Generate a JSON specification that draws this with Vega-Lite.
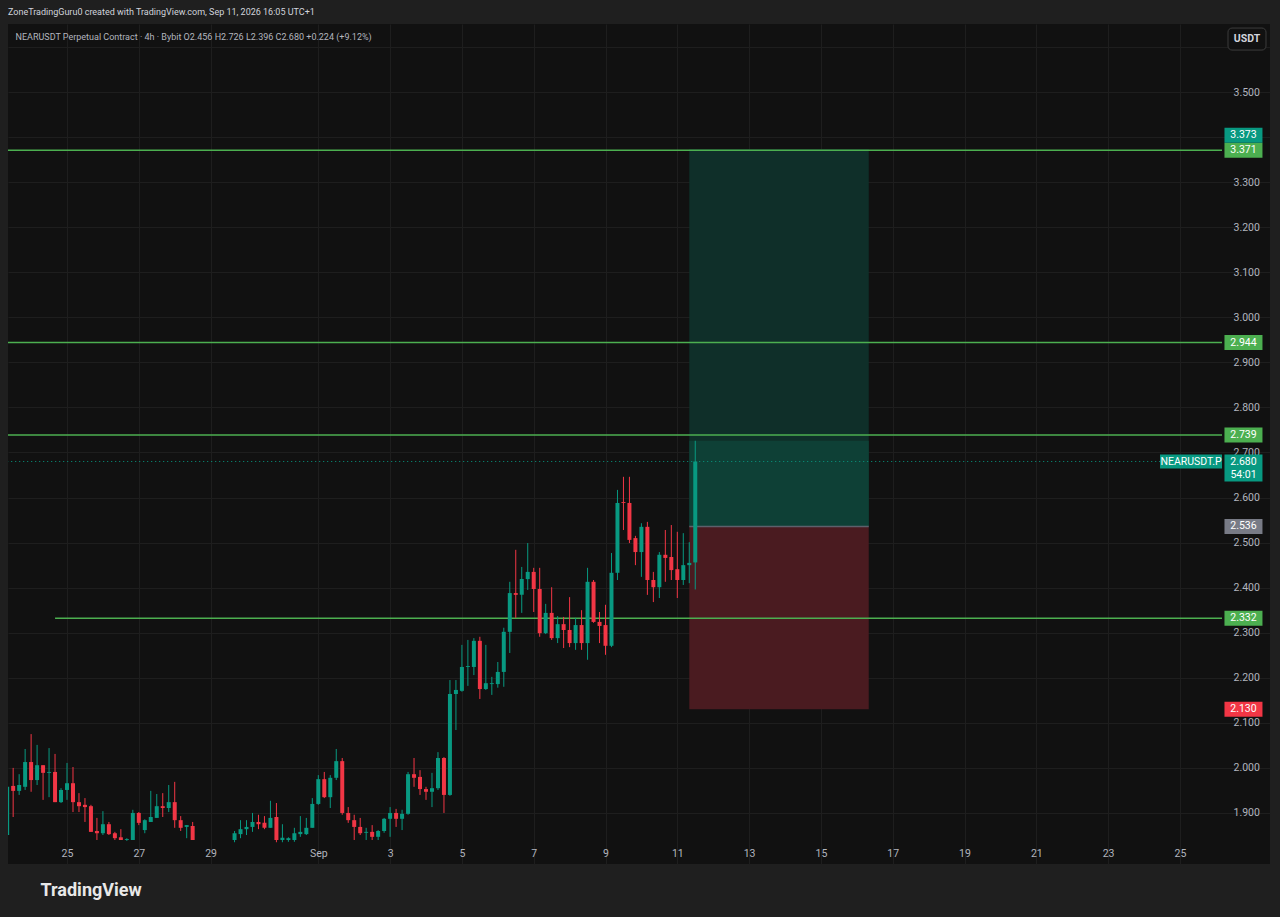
{
  "$schema": "https://vega.github.io/schema/vega-lite/v6.json",
  "width": 1262,
  "height": 840,
  "autosize": {"type": "none"},
  "padding": {"left": 8, "top": 24, "right": 10, "bottom": 53},
  "background": "#1f1f1f",
  "config": {"view": {"fill": "#111111", "stroke": null}, "font": "Roboto"},
  "title": {
    "text": "ZoneTradingGuru0 created with TradingView.com, Sep 11, 2026 16:05 UTC+1",
    "anchor": "start",
    "frame": "group",
    "orient": "top",
    "offset": 7,
    "font": "Roboto",
    "fontSize": 9,
    "fontWeight": "normal",
    "color": "#d1d4dc"
  },
  "datasets": {
    "candles": [
      {"t": "2026-08-23T08:00:00Z", "o": 1.851, "h": 1.958, "l": 1.851, "c": 1.958},
      {"t": "2026-08-23T12:00:00Z", "o": 1.960, "h": 2.000, "l": 1.891, "c": 1.949},
      {"t": "2026-08-23T16:00:00Z", "o": 1.949, "h": 1.986, "l": 1.940, "c": 1.962},
      {"t": "2026-08-23T20:00:00Z", "o": 1.958, "h": 2.042, "l": 1.951, "c": 2.013},
      {"t": "2026-08-24T00:00:00Z", "o": 2.013, "h": 2.075, "l": 1.947, "c": 1.973},
      {"t": "2026-08-24T04:00:00Z", "o": 1.973, "h": 2.051, "l": 1.962, "c": 2.006},
      {"t": "2026-08-24T08:00:00Z", "o": 2.006, "h": 2.006, "l": 1.929, "c": 1.989},
      {"t": "2026-08-24T12:00:00Z", "o": 1.989, "h": 2.044, "l": 1.935, "c": 1.991},
      {"t": "2026-08-24T16:00:00Z", "o": 1.991, "h": 2.031, "l": 1.924, "c": 1.924},
      {"t": "2026-08-24T20:00:00Z", "o": 1.924, "h": 1.955, "l": 1.922, "c": 1.951},
      {"t": "2026-08-25T00:00:00Z", "o": 1.951, "h": 2.011, "l": 1.929, "c": 1.966},
      {"t": "2026-08-25T04:00:00Z", "o": 1.966, "h": 2.002, "l": 1.902, "c": 1.924},
      {"t": "2026-08-25T08:00:00Z", "o": 1.924, "h": 1.944, "l": 1.902, "c": 1.915},
      {"t": "2026-08-25T12:00:00Z", "o": 1.918, "h": 1.933, "l": 1.880, "c": 1.913},
      {"t": "2026-08-25T16:00:00Z", "o": 1.915, "h": 1.918, "l": 1.858, "c": 1.858},
      {"t": "2026-08-25T20:00:00Z", "o": 1.860, "h": 1.889, "l": 1.840, "c": 1.855},
      {"t": "2026-08-26T00:00:00Z", "o": 1.855, "h": 1.904, "l": 1.851, "c": 1.875},
      {"t": "2026-08-26T04:00:00Z", "o": 1.875, "h": 1.880, "l": 1.851, "c": 1.853},
      {"t": "2026-08-26T08:00:00Z", "o": 1.855, "h": 1.858, "l": 1.840, "c": 1.844},
      {"t": "2026-08-26T12:00:00Z", "o": 1.846, "h": 1.864, "l": 1.840, "c": 1.840},
      {"t": "2026-08-26T16:00:00Z", "o": 1.840, "h": 1.844, "l": 1.838, "c": 1.842},
      {"t": "2026-08-26T20:00:00Z", "o": 1.840, "h": 1.907, "l": 1.840, "c": 1.900},
      {"t": "2026-08-27T00:00:00Z", "o": 1.900, "h": 1.902, "l": 1.873, "c": 1.878},
      {"t": "2026-08-27T04:00:00Z", "o": 1.862, "h": 1.886, "l": 1.855, "c": 1.884},
      {"t": "2026-08-27T08:00:00Z", "o": 1.880, "h": 1.949, "l": 1.880, "c": 1.891},
      {"t": "2026-08-27T12:00:00Z", "o": 1.889, "h": 1.942, "l": 1.889, "c": 1.915},
      {"t": "2026-08-27T16:00:00Z", "o": 1.915, "h": 1.944, "l": 1.891, "c": 1.911},
      {"t": "2026-08-27T20:00:00Z", "o": 1.911, "h": 1.962, "l": 1.902, "c": 1.924},
      {"t": "2026-08-28T00:00:00Z", "o": 1.924, "h": 1.969, "l": 1.867, "c": 1.884},
      {"t": "2026-08-28T04:00:00Z", "o": 1.884, "h": 1.893, "l": 1.860, "c": 1.867},
      {"t": "2026-08-28T08:00:00Z", "o": 1.869, "h": 1.873, "l": 1.844, "c": 1.873},
      {"t": "2026-08-28T12:00:00Z", "o": 1.871, "h": 1.880, "l": 1.840, "c": 1.840},
      {"t": "2026-08-29T16:00:00Z", "o": 1.840, "h": 1.860, "l": 1.835, "c": 1.855},
      {"t": "2026-08-29T20:00:00Z", "o": 1.853, "h": 1.884, "l": 1.844, "c": 1.864},
      {"t": "2026-08-30T00:00:00Z", "o": 1.864, "h": 1.884, "l": 1.851, "c": 1.869},
      {"t": "2026-08-30T04:00:00Z", "o": 1.869, "h": 1.900, "l": 1.858, "c": 1.880},
      {"t": "2026-08-30T08:00:00Z", "o": 1.880, "h": 1.896, "l": 1.864, "c": 1.875},
      {"t": "2026-08-30T12:00:00Z", "o": 1.878, "h": 1.893, "l": 1.864, "c": 1.867},
      {"t": "2026-08-30T16:00:00Z", "o": 1.867, "h": 1.927, "l": 1.867, "c": 1.889},
      {"t": "2026-08-30T20:00:00Z", "o": 1.891, "h": 1.922, "l": 1.835, "c": 1.840},
      {"t": "2026-08-31T00:00:00Z", "o": 1.840, "h": 1.875, "l": 1.835, "c": 1.845},
      {"t": "2026-08-31T04:00:00Z", "o": 1.840, "h": 1.846, "l": 1.836, "c": 1.844},
      {"t": "2026-08-31T08:00:00Z", "o": 1.840, "h": 1.867, "l": 1.836, "c": 1.855},
      {"t": "2026-08-31T12:00:00Z", "o": 1.853, "h": 1.893, "l": 1.847, "c": 1.858},
      {"t": "2026-08-31T16:00:00Z", "o": 1.853, "h": 1.889, "l": 1.851, "c": 1.867},
      {"t": "2026-08-31T20:00:00Z", "o": 1.867, "h": 1.933, "l": 1.867, "c": 1.920},
      {"t": "2026-09-01T00:00:00Z", "o": 1.920, "h": 1.984, "l": 1.918, "c": 1.975},
      {"t": "2026-09-01T04:00:00Z", "o": 1.975, "h": 1.991, "l": 1.933, "c": 1.935},
      {"t": "2026-09-01T08:00:00Z", "o": 1.935, "h": 1.984, "l": 1.911, "c": 1.978},
      {"t": "2026-09-01T12:00:00Z", "o": 1.978, "h": 2.042, "l": 1.973, "c": 2.015},
      {"t": "2026-09-01T16:00:00Z", "o": 2.015, "h": 2.022, "l": 1.896, "c": 1.900},
      {"t": "2026-09-01T20:00:00Z", "o": 1.900, "h": 1.913, "l": 1.878, "c": 1.884},
      {"t": "2026-09-02T00:00:00Z", "o": 1.884, "h": 1.896, "l": 1.840, "c": 1.869},
      {"t": "2026-09-02T04:00:00Z", "o": 1.869, "h": 1.889, "l": 1.851, "c": 1.855},
      {"t": "2026-09-02T08:00:00Z", "o": 1.856, "h": 1.867, "l": 1.840, "c": 1.858},
      {"t": "2026-09-02T12:00:00Z", "o": 1.858, "h": 1.873, "l": 1.840, "c": 1.847},
      {"t": "2026-09-02T16:00:00Z", "o": 1.847, "h": 1.862, "l": 1.840, "c": 1.860},
      {"t": "2026-09-02T20:00:00Z", "o": 1.860, "h": 1.889, "l": 1.856, "c": 1.887},
      {"t": "2026-09-03T00:00:00Z", "o": 1.887, "h": 1.913, "l": 1.847, "c": 1.900},
      {"t": "2026-09-03T04:00:00Z", "o": 1.900, "h": 1.909, "l": 1.869, "c": 1.887},
      {"t": "2026-09-03T08:00:00Z", "o": 1.887, "h": 1.907, "l": 1.862, "c": 1.898},
      {"t": "2026-09-03T12:00:00Z", "o": 1.898, "h": 1.991, "l": 1.896, "c": 1.986},
      {"t": "2026-09-03T16:00:00Z", "o": 1.986, "h": 2.022, "l": 1.958, "c": 1.978},
      {"t": "2026-09-03T20:00:00Z", "o": 1.980, "h": 1.995, "l": 1.940, "c": 1.953},
      {"t": "2026-09-04T00:00:00Z", "o": 1.953, "h": 1.958, "l": 1.929, "c": 1.947},
      {"t": "2026-09-04T04:00:00Z", "o": 1.947, "h": 1.989, "l": 1.913, "c": 1.955},
      {"t": "2026-09-04T08:00:00Z", "o": 1.955, "h": 2.035, "l": 1.951, "c": 2.022},
      {"t": "2026-09-04T12:00:00Z", "o": 2.022, "h": 2.024, "l": 1.900, "c": 1.940},
      {"t": "2026-09-04T16:00:00Z", "o": 1.940, "h": 2.195, "l": 1.938, "c": 2.164},
      {"t": "2026-09-04T20:00:00Z", "o": 2.164, "h": 2.195, "l": 2.084, "c": 2.173},
      {"t": "2026-09-05T00:00:00Z", "o": 2.171, "h": 2.273, "l": 2.169, "c": 2.224},
      {"t": "2026-09-05T04:00:00Z", "o": 2.224, "h": 2.284, "l": 2.182, "c": 2.226},
      {"t": "2026-09-05T08:00:00Z", "o": 2.224, "h": 2.288, "l": 2.206, "c": 2.282},
      {"t": "2026-09-05T12:00:00Z", "o": 2.282, "h": 2.291, "l": 2.153, "c": 2.175},
      {"t": "2026-09-05T16:00:00Z", "o": 2.175, "h": 2.273, "l": 2.173, "c": 2.188},
      {"t": "2026-09-05T20:00:00Z", "o": 2.186, "h": 2.202, "l": 2.162, "c": 2.188},
      {"t": "2026-09-06T00:00:00Z", "o": 2.186, "h": 2.235, "l": 2.178, "c": 2.213},
      {"t": "2026-09-06T04:00:00Z", "o": 2.213, "h": 2.311, "l": 2.180, "c": 2.302},
      {"t": "2026-09-06T08:00:00Z", "o": 2.302, "h": 2.413, "l": 2.255, "c": 2.388},
      {"t": "2026-09-06T12:00:00Z", "o": 2.388, "h": 2.484, "l": 2.333, "c": 2.384},
      {"t": "2026-09-06T16:00:00Z", "o": 2.384, "h": 2.446, "l": 2.344, "c": 2.419},
      {"t": "2026-09-06T20:00:00Z", "o": 2.419, "h": 2.499, "l": 2.395, "c": 2.435},
      {"t": "2026-09-07T00:00:00Z", "o": 2.435, "h": 2.444, "l": 2.346, "c": 2.397},
      {"t": "2026-09-07T04:00:00Z", "o": 2.397, "h": 2.444, "l": 2.291, "c": 2.299},
      {"t": "2026-09-07T08:00:00Z", "o": 2.299, "h": 2.364, "l": 2.297, "c": 2.344},
      {"t": "2026-09-07T12:00:00Z", "o": 2.344, "h": 2.401, "l": 2.284, "c": 2.288},
      {"t": "2026-09-07T16:00:00Z", "o": 2.288, "h": 2.337, "l": 2.277, "c": 2.319},
      {"t": "2026-09-07T20:00:00Z", "o": 2.319, "h": 2.335, "l": 2.266, "c": 2.306},
      {"t": "2026-09-08T00:00:00Z", "o": 2.306, "h": 2.379, "l": 2.268, "c": 2.277},
      {"t": "2026-09-08T04:00:00Z", "o": 2.277, "h": 2.333, "l": 2.262, "c": 2.317},
      {"t": "2026-09-08T08:00:00Z", "o": 2.317, "h": 2.350, "l": 2.262, "c": 2.277},
      {"t": "2026-09-08T12:00:00Z", "o": 2.277, "h": 2.444, "l": 2.240, "c": 2.413},
      {"t": "2026-09-08T16:00:00Z", "o": 2.413, "h": 2.417, "l": 2.322, "c": 2.324},
      {"t": "2026-09-08T20:00:00Z", "o": 2.324, "h": 2.346, "l": 2.277, "c": 2.315},
      {"t": "2026-09-09T00:00:00Z", "o": 2.317, "h": 2.362, "l": 2.251, "c": 2.271},
      {"t": "2026-09-09T04:00:00Z", "o": 2.271, "h": 2.477, "l": 2.268, "c": 2.433},
      {"t": "2026-09-09T08:00:00Z", "o": 2.433, "h": 2.617, "l": 2.417, "c": 2.588},
      {"t": "2026-09-09T12:00:00Z", "o": 2.590, "h": 2.646, "l": 2.528, "c": 2.588},
      {"t": "2026-09-09T16:00:00Z", "o": 2.588, "h": 2.646, "l": 2.499, "c": 2.506},
      {"t": "2026-09-09T20:00:00Z", "o": 2.510, "h": 2.515, "l": 2.450, "c": 2.479},
      {"t": "2026-09-10T00:00:00Z", "o": 2.479, "h": 2.543, "l": 2.424, "c": 2.535},
      {"t": "2026-09-10T04:00:00Z", "o": 2.535, "h": 2.546, "l": 2.384, "c": 2.417},
      {"t": "2026-09-10T08:00:00Z", "o": 2.417, "h": 2.435, "l": 2.368, "c": 2.401},
      {"t": "2026-09-10T12:00:00Z", "o": 2.401, "h": 2.479, "l": 2.377, "c": 2.473},
      {"t": "2026-09-10T16:00:00Z", "o": 2.473, "h": 2.528, "l": 2.413, "c": 2.466},
      {"t": "2026-09-10T20:00:00Z", "o": 2.468, "h": 2.539, "l": 2.417, "c": 2.439},
      {"t": "2026-09-11T00:00:00Z", "o": 2.441, "h": 2.524, "l": 2.377, "c": 2.417},
      {"t": "2026-09-11T04:00:00Z", "o": 2.417, "h": 2.521, "l": 2.406, "c": 2.450},
      {"t": "2026-09-11T08:00:00Z", "o": 2.450, "h": 2.501, "l": 2.410, "c": 2.455},
      {"t": "2026-09-11T12:00:00Z", "o": 2.456, "h": 2.726, "l": 2.396, "c": 2.680}
    ],
    "levels": [
      {"price": 3.371, "from": "2026-08-23T00:00:00Z"},
      {"price": 2.944, "from": "2026-08-23T00:00:00Z"},
      {"price": 2.739, "from": "2026-08-23T00:00:00Z"},
      {"price": 2.332, "from": "2026-08-24T16:00:00Z"}
    ],
    "zones": [
      {"zone": "target", "from": "2026-09-11T08:00:00Z", "to": "2026-09-16T08:00:00Z", "top": 3.373, "bottom": 2.536},
      {"zone": "open", "from": "2026-09-11T08:00:00Z", "to": "2026-09-16T08:00:00Z", "top": 2.726, "bottom": 2.536},
      {"zone": "stop", "from": "2026-09-11T08:00:00Z", "to": "2026-09-16T08:00:00Z", "top": 2.536, "bottom": 2.130}
    ],
    "tags": [
      {"price": 3.373, "label": "3.373", "kind": "target"},
      {"price": 3.371, "label": "3.371", "kind": "level"},
      {"price": 2.944, "label": "2.944", "kind": "level"},
      {"price": 2.739, "label": "2.739", "kind": "level"},
      {"price": 2.536, "label": "2.536", "kind": "entry"},
      {"price": 2.332, "label": "2.332", "kind": "level"},
      {"price": 2.130, "label": "2.130", "kind": "stop"}
    ],
    "last": [
      {"price": 2.680, "symbol": "NEARUSDT.P", "label": "2.680", "countdown": "54:01"}
    ]
  },
  "layer": [
    {
      "data": {"name": "zones"},
      "mark": {"type": "rect"},
      "encoding": {
        "x": {"field": "from", "type": "temporal"},
        "x2": {"field": "to"},
        "y": {"field": "top", "type": "quantitative"},
        "y2": {"field": "bottom"},
        "color": {
          "condition": [
            {"test": "datum.zone === 'target'", "value": "#0f2f29"},
            {"test": "datum.zone === 'open'", "value": "#0e4036"}
          ],
          "value": "#4a1b20"
        }
      }
    },
    {
      "data": {"values": [{}]},
      "mark": {"type": "rule", "color": "#5d606b", "strokeWidth": 1.5},
      "encoding": {
        "x": {"datum": {"year": 2026, "month": 9, "date": 11, "hours": 8, "utc": true}, "type": "temporal"},
        "x2": {"datum": {"year": 2026, "month": 9, "date": 16, "hours": 8, "utc": true}},
        "y": {"datum": 2.536, "type": "quantitative"}
      }
    },
    {
      "data": {"name": "levels"},
      "mark": {"type": "rule", "color": "#4caf50", "strokeWidth": 1.5, "clip": true},
      "encoding": {
        "x": {"field": "from", "type": "temporal"},
        "x2": {"datum": {"year": 2026, "month": 9, "date": 26, "hours": 4, "minutes": 9, "utc": true}},
        "y": {"field": "price", "type": "quantitative"}
      }
    },
    {
      "data": {"values": [{}]},
      "mark": {"type": "rule", "color": "#089981", "strokeWidth": 1, "strokeDash": [1, 3], "clip": true},
      "encoding": {
        "x": {"datum": {"year": 2026, "month": 8, "date": 23, "utc": true}, "type": "temporal"},
        "x2": {"datum": {"year": 2026, "month": 9, "date": 26, "hours": 4, "minutes": 9, "utc": true}},
        "y": {"datum": 2.68, "type": "quantitative"}
      }
    },
    {
      "data": {"name": "candles"},
      "mark": {"type": "rule", "strokeWidth": 1, "clip": true},
      "encoding": {
        "x": {
          "field": "t",
          "type": "temporal",
          "scale": {
            "type": "utc",
            "nice": false,
            "padding": 0,
            "domain": [
              {"year": 2026, "month": 8, "date": 23, "hours": 8, "minutes": 33, "utc": true},
              {"year": 2026, "month": 9, "date": 27, "hours": 12, "minutes": 14, "utc": true}
            ]
          },
          "axis": {
            "orient": "bottom",
            "offset": -19,
            "title": "TradingView",
            "titleAnchor": "start",
            "titleAlign": "left",
            "titleBaseline": "middle",
            "titleX": 32,
            "titleY": 45,
            "titleFont": "Roboto",
            "titleFontSize": 18,
            "titleFontWeight": "bold",
            "titleColor": "#e8e8e8",
            "values": [
              {"year": 2026, "month": 8, "date": 25, "utc": true},
              {"year": 2026, "month": 8, "date": 27, "utc": true},
              {"year": 2026, "month": 8, "date": 29, "utc": true},
              {"year": 2026, "month": 9, "date": 1, "utc": true},
              {"year": 2026, "month": 9, "date": 3, "utc": true},
              {"year": 2026, "month": 9, "date": 5, "utc": true},
              {"year": 2026, "month": 9, "date": 7, "utc": true},
              {"year": 2026, "month": 9, "date": 9, "utc": true},
              {"year": 2026, "month": 9, "date": 11, "utc": true},
              {"year": 2026, "month": 9, "date": 13, "utc": true},
              {"year": 2026, "month": 9, "date": 15, "utc": true},
              {"year": 2026, "month": 9, "date": 17, "utc": true},
              {"year": 2026, "month": 9, "date": 19, "utc": true},
              {"year": 2026, "month": 9, "date": 21, "utc": true},
              {"year": 2026, "month": 9, "date": 23, "utc": true},
              {"year": 2026, "month": 9, "date": 25, "utc": true}
            ],
            "labelExpr": "utcdate(datum.value) == 1 ? 'Sep' : '' + utcdate(datum.value)",
            "labelFont": "Roboto",
            "labelFontSize": 10.5,
            "labelColor": "#b2b5be",
            "labelPadding": 3,
            "labelFlush": false,
            "labelOverlap": false,
            "domain": false,
            "ticks": false,
            "tickSize": 0,
            "grid": true,
            "gridColor": "#1e1e1e",
            "gridWidth": 1
          }
        },
        "y": {
          "field": "l",
          "type": "quantitative",
          "scale": {"domain": [1.7867, 3.651], "nice": false, "zero": false, "padding": 0},
          "axis": {
            "orient": "right",
            "offset": -48,
            "title": "NEARUSDT Perpetual Contract · 4h · Bybit   O2.456   H2.726   L2.396   C2.680   +0.224 (+9.12%)",
            "titleAngle": 0,
            "titleAnchor": null,
            "titleX": -1207,
            "titleY": 12,
            "titleAlign": "left",
            "titleBaseline": "middle",
            "titleFont": "Roboto",
            "titleFontSize": 9,
            "titleFontWeight": "normal",
            "titleColor": "#b2b5be",
            "values": [1.9, 2.0, 2.1, 2.2, 2.3, 2.4, 2.5, 2.6, 2.7, 2.8, 2.9, 3.0, 3.1, 3.2, 3.3, 3.4, 3.5, 3.6],
            "labelExpr": "abs(datum.value - 3.4) < 0.001 || abs(datum.value - 3.6) < 0.001 ? '' : format(datum.value, '.3f')",
            "labelFont": "Roboto",
            "labelFontSize": 10.5,
            "labelColor": "#b2b5be",
            "labelAlign": "left",
            "labelBaseline": "middle",
            "labelPadding": 11,
            "labelOverlap": false,
            "labelFlush": false,
            "domain": false,
            "ticks": false,
            "tickSize": 0,
            "grid": true,
            "gridColor": "#1e1e1e",
            "gridWidth": 1
          }
        },
        "y2": {"field": "h"},
        "color": {"condition": {"test": "datum.c >= datum.o", "value": "#089981"}, "value": "#f23645"}
      }
    },
    {
      "data": {"name": "candles"},
      "mark": {"type": "bar", "width": 4, "clip": true},
      "encoding": {
        "x": {"field": "t", "type": "temporal"},
        "y": {"field": "o", "type": "quantitative"},
        "y2": {"field": "c"},
        "color": {"condition": {"test": "datum.c >= datum.o", "value": "#089981"}, "value": "#f23645"}
      }
    },
    {
      "data": {"name": "tags"},
      "transform": [{"filter": "datum.kind !== 'target'"}],
      "mark": {"type": "tick", "orient": "horizontal", "size": 38, "thickness": 15, "opacity": 1},
      "encoding": {
        "x": {"datum": {"year": 2026, "month": 9, "date": 26, "hours": 18, "minutes": 30, "utc": true}, "type": "temporal"},
        "y": {"field": "price", "type": "quantitative"},
        "color": {
          "condition": [
            {"test": "datum.kind === 'level'", "value": "#4caf50"},
            {"test": "datum.kind === 'entry'", "value": "#787b86"}
          ],
          "value": "#f23645"
        }
      }
    },
    {
      "data": {"name": "tags"},
      "transform": [{"filter": "datum.kind !== 'target'"}],
      "mark": {"type": "text", "color": "#ffffff", "fontSize": 10.5, "font": "Roboto", "align": "center", "baseline": "middle"},
      "encoding": {
        "x": {"datum": {"year": 2026, "month": 9, "date": 26, "hours": 18, "minutes": 30, "utc": true}, "type": "temporal"},
        "y": {"field": "price", "type": "quantitative"},
        "text": {"field": "label"}
      }
    },
    {
      "data": {"name": "tags"},
      "transform": [{"filter": "datum.kind === 'target'"}],
      "mark": {"type": "tick", "orient": "horizontal", "size": 38, "thickness": 15, "opacity": 1, "color": "#089981", "yOffset": -14},
      "encoding": {
        "x": {"datum": {"year": 2026, "month": 9, "date": 26, "hours": 18, "minutes": 30, "utc": true}, "type": "temporal"},
        "y": {"field": "price", "type": "quantitative"}
      }
    },
    {
      "data": {"name": "tags"},
      "transform": [{"filter": "datum.kind === 'target'"}],
      "mark": {"type": "text", "color": "#ffffff", "fontSize": 10.5, "font": "Roboto", "align": "center", "baseline": "middle", "yOffset": -14},
      "encoding": {
        "x": {"datum": {"year": 2026, "month": 9, "date": 26, "hours": 18, "minutes": 30, "utc": true}, "type": "temporal"},
        "y": {"field": "price", "type": "quantitative"},
        "text": {"field": "label"}
      }
    },
    {
      "data": {"name": "last"},
      "mark": {"type": "tick", "orient": "horizontal", "size": 62, "thickness": 14, "opacity": 1, "color": "#089981"},
      "encoding": {
        "x": {"datum": {"year": 2026, "month": 9, "date": 25, "hours": 7, "minutes": 26, "utc": true}, "type": "temporal"},
        "y": {"field": "price", "type": "quantitative"}
      }
    },
    {
      "data": {"name": "last"},
      "mark": {"type": "text", "color": "#ffffff", "fontSize": 10.5, "font": "Roboto", "align": "center", "baseline": "middle"},
      "encoding": {
        "x": {"datum": {"year": 2026, "month": 9, "date": 25, "hours": 7, "minutes": 26, "utc": true}, "type": "temporal"},
        "y": {"field": "price", "type": "quantitative"},
        "text": {"field": "symbol"}
      }
    },
    {
      "data": {"name": "last"},
      "mark": {"type": "tick", "orient": "horizontal", "size": 38, "thickness": 27, "opacity": 1, "color": "#089981", "yOffset": 6.5},
      "encoding": {
        "x": {"datum": {"year": 2026, "month": 9, "date": 26, "hours": 18, "minutes": 30, "utc": true}, "type": "temporal"},
        "y": {"field": "price", "type": "quantitative"}
      }
    },
    {
      "data": {"name": "last"},
      "mark": {"type": "text", "color": "#ffffff", "fontSize": 10.5, "font": "Roboto", "align": "center", "baseline": "middle"},
      "encoding": {
        "x": {"datum": {"year": 2026, "month": 9, "date": 26, "hours": 18, "minutes": 30, "utc": true}, "type": "temporal"},
        "y": {"field": "price", "type": "quantitative"},
        "text": {"field": "label"}
      }
    },
    {
      "data": {"name": "last"},
      "mark": {"type": "text", "color": "#ffffff", "fontSize": 10.5, "font": "Roboto", "align": "center", "baseline": "middle", "yOffset": 13},
      "encoding": {
        "x": {"datum": {"year": 2026, "month": 9, "date": 26, "hours": 18, "minutes": 30, "utc": true}, "type": "temporal"},
        "y": {"field": "price", "type": "quantitative"},
        "text": {"field": "countdown"}
      }
    },
    {
      "data": {"values": [{"unit": "USDT"}]},
      "mark": {"type": "tick", "orient": "horizontal", "size": 38, "thickness": 22, "opacity": 1, "color": "#111111", "stroke": "#3d3d3d", "strokeWidth": 1, "cornerRadius": 4},
      "encoding": {
        "x": {"datum": {"year": 2026, "month": 9, "date": 26, "hours": 20, "minutes": 51, "utc": true}, "type": "temporal"},
        "y": {"datum": 3.6176, "type": "quantitative"}
      }
    },
    {
      "data": {"values": [{"unit": "USDT"}]},
      "mark": {"type": "text", "color": "#d1d4dc", "fontSize": 10.5, "font": "Roboto", "fontWeight": "bold", "align": "center", "baseline": "middle"},
      "encoding": {
        "x": {"datum": {"year": 2026, "month": 9, "date": 26, "hours": 20, "minutes": 51, "utc": true}, "type": "temporal"},
        "y": {"datum": 3.6176, "type": "quantitative"},
        "text": {"field": "unit"}
      }
    }
  ]
}
